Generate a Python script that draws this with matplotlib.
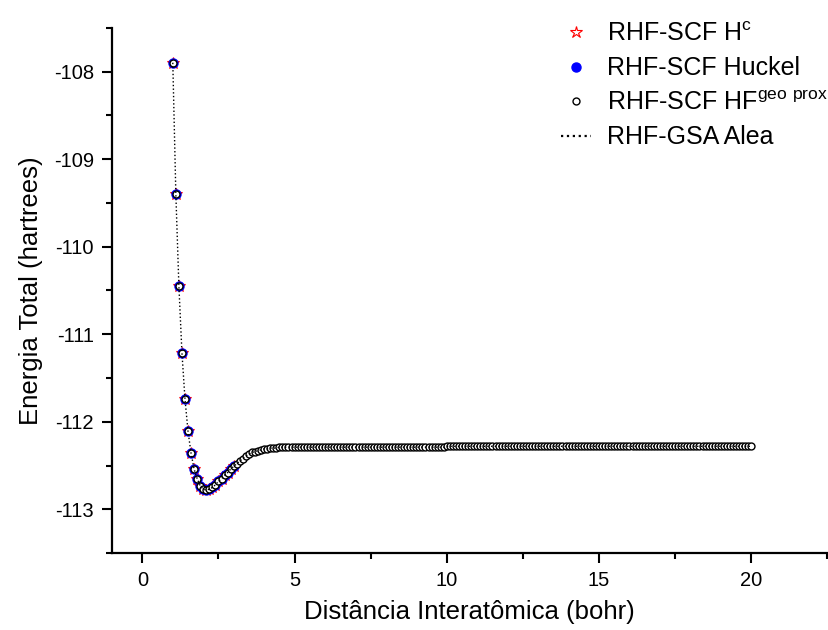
import numpy as np
import matplotlib
matplotlib.use('Agg')
import matplotlib.pyplot as plt
import matplotlib.ticker as ticker

plt.rcParams['font.family'] = ['Liberation Sans', 'DejaVu Sans']
plt.rcParams['mathtext.fontset'] = 'custom'
plt.rcParams['mathtext.rm'] = 'Liberation Sans'

# interatomic distance grid (bohr), 1.0 .. 20.0 in 0.1 steps
distance = np.round(np.arange(10, 201) / 10, 1)

# total energy (hartrees)
energy_near = [
    -107.90, -109.40, -110.45, -111.21, -111.74, -112.11, -112.36, -112.54, -112.65, -112.73,  # 1.0-1.9
    -112.77, -112.78, -112.77, -112.75, -112.72, -112.68, -112.65, -112.61, -112.58, -112.54,  # 2.0-2.9
    -112.51, -112.48, -112.45, -112.42, -112.39, -112.37, -112.35, -112.34, -112.33, -112.32,  # 3.0-3.9
    -112.31, -112.31, -112.30, -112.30, -112.30, -112.29, -112.29, -112.29, -112.29, -112.29,  # 4.0-4.9
]
energy_mid = [
    -112.29, -112.29, -112.29, -112.29, -112.29, -112.29, -112.29, -112.29, -112.29, -112.29,  # 5.0-5.9
    -112.29, -112.29, -112.29, -112.29, -112.29, -112.29, -112.29, -112.29, -112.29, -112.29,  # 6.0-6.9
    -112.29, -112.29, -112.29, -112.29, -112.29, -112.29, -112.29, -112.29, -112.29, -112.29,  # 7.0-7.9
    -112.29, -112.29, -112.29, -112.29, -112.29, -112.29, -112.29, -112.29, -112.29, -112.29,  # 8.0-8.9
    -112.29, -112.29, -112.29, -112.29, -112.29, -112.29, -112.29, -112.29, -112.29, -112.29,  # 9.0-9.9
]
energy_far = [
    -112.28, -112.28, -112.28, -112.28, -112.28, -112.28, -112.28, -112.28, -112.28, -112.28,  # 10.0-10.9
    -112.28, -112.28, -112.28, -112.28, -112.28, -112.28, -112.28, -112.28, -112.28, -112.28,  # 11
    -112.28, -112.28, -112.28, -112.28, -112.28, -112.28, -112.28, -112.28, -112.28, -112.28,  # 12
    -112.28, -112.28, -112.28, -112.28, -112.28, -112.28, -112.28, -112.28, -112.28, -112.28,  # 13
    -112.28, -112.28, -112.28, -112.28, -112.28, -112.28, -112.28, -112.28, -112.28, -112.28,  # 14
    -112.28, -112.28, -112.28, -112.28, -112.28, -112.28, -112.28, -112.28, -112.28, -112.28,  # 15
    -112.28, -112.28, -112.28, -112.28, -112.28, -112.28, -112.28, -112.28, -112.28, -112.28,  # 16
    -112.28, -112.28, -112.28, -112.28, -112.28, -112.28, -112.28, -112.28, -112.28, -112.28,  # 17
    -112.28, -112.28, -112.28, -112.28, -112.28, -112.28, -112.28, -112.28, -112.28, -112.28,  # 18
    -112.28, -112.28, -112.28, -112.28, -112.28, -112.28, -112.28, -112.28, -112.28, -112.28,  # 19
    -112.28,                                                                                   # 20.0
]
energy = np.array(energy_near + energy_mid + energy_far)

# the H^c and Huckel runs only cover the short range (1.0 .. 3.0 bohr)
n_short = 21

fig = plt.figure(figsize=(8.29, 6.30), dpi=100)
ax = fig.add_axes([0.135, 0.122, 0.863, 0.834])

ax.plot(distance[:n_short], energy[:n_short], linestyle='none', marker='*', markersize=9,
        markerfacecolor='none', markeredgecolor='red', markeredgewidth=0.8,
        label='RHF-SCF H$^\\mathregular{c}$')
ax.plot(distance[:n_short], energy[:n_short], linestyle='none', marker='o', markersize=6.5,
        color='blue', label='RHF-SCF Huckel')
ax.plot(distance, energy, linestyle='none', marker='o', markersize=5,
        markerfacecolor='white', markeredgecolor='black', markeredgewidth=1.0,
        label='RHF-SCF HF$^\\mathregular{geo\\ prox}$')
ax.plot(distance, energy, linestyle=':', color='black', linewidth=1,
        label='RHF-GSA Alea')

ax.set_xlim(-1, 22.5)
ax.set_ylim(-113.5, -107.5)

ax.spines['top'].set_visible(False)
ax.spines['right'].set_visible(False)
ax.spines['left'].set_linewidth(1.6)
ax.spines['bottom'].set_linewidth(1.6)

ax.xaxis.set_major_locator(ticker.MultipleLocator(5))
ax.xaxis.set_minor_locator(ticker.MultipleLocator(2.5))
ax.yaxis.set_major_locator(ticker.MultipleLocator(1))
ax.yaxis.set_minor_locator(ticker.MultipleLocator(0.5))
ax.yaxis.set_major_formatter(ticker.FuncFormatter(lambda v, p: f'{v:.0f}'))

ax.tick_params(which='major', direction='out', length=7, width=1.5, labelsize=14.5, pad=6)
ax.tick_params(which='minor', direction='out', length=4.5, width=1.5)

ax.set_xlabel('Distância Interatômica (bohr)', fontsize=18.5, labelpad=7)
ax.set_ylabel('Energia Total (hartrees)', fontsize=18.5, labelpad=8)

leg = ax.legend(loc='upper right', bbox_to_anchor=(1.015, 1.03), frameon=False,
                fontsize=18, handlelength=1.2, handletextpad=0.65, labelspacing=0.42,
                borderaxespad=0)
for line in leg.get_lines()[3:]:
    line.set_linewidth(1.6)

fig.savefig('out.png', dpi=100)
